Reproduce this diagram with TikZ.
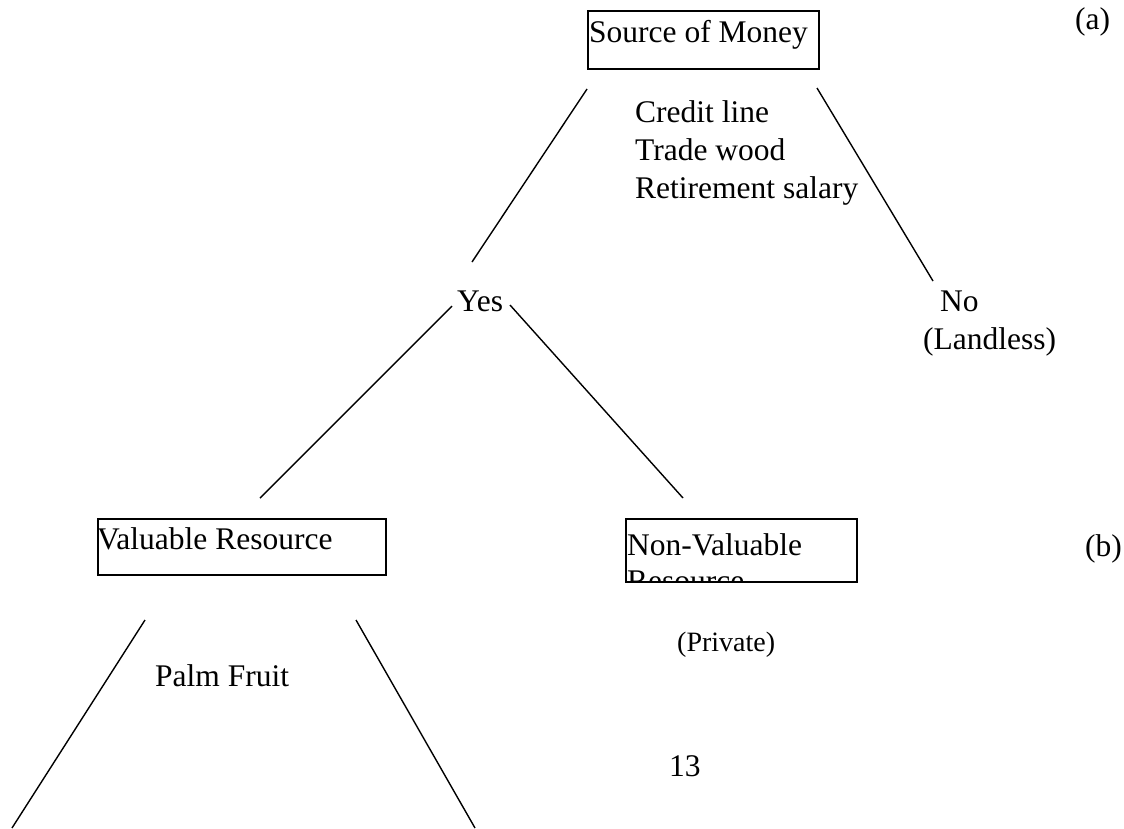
\documentclass[tikz,border=0pt]{standalone}
\usepackage{fontspec}
\setmainfont{Liberation Serif}
\newfontfamily\tmsfont{Liberation Serif}
\begin{document}
\begin{tikzpicture}[x=1pt,y=-1pt,
  txt/.style={inner sep=0pt, anchor=base west, font=\tmsfont\fontsize{31.5}{36}\selectfont},
  smalltxt/.style={inner sep=0pt, anchor=base west, font=\tmsfont\fontsize{28}{33}\selectfont},
  boxx/.style={draw, line width=1.5pt, inner sep=0pt, anchor=north west},
  conn/.style={line width=1.4pt}]
\useasboundingbox (0,0) rectangle (1124,828);

% boxes
\node[boxx, minimum width=231pt, minimum height=58pt] (srcbox) at (587,10) {};
\node[boxx, minimum width=288pt, minimum height=56pt] (valbox) at (97,518) {};
\node[boxx, minimum width=231pt, minimum height=63pt] (nvbox) at (625,518) {};

% texts
\node[txt] (src) at (589,42) {Source of Money};
\node[txt] (cl) at (635,122) {Credit line};
\node[txt] (tw) at (635,160) {Trade wood};
\node[txt] (rs) at (635,198) {Retirement salary};
\node[txt] (yes) at (457,311) {Yes};
\node[txt] (no) at (940,311) {No};
\node[txt] (land) at (923,349) {(Landless)};
\node[txt] (val) at (97,549) {Valuable Resource};
\node[txt] (nv) at (627,555) {Non-Valuable};
\begin{scope}
  \clip (625,518) rectangle (856,581);
  \node[txt] (nvres) at (627,591) {Resource};
\end{scope}
\node[smalltxt] (priv) at (677,651) {(Private)};
\node[txt] (palm) at (155,686) {Palm Fruit};
\node[txt] (pg) at (669,776) {13};
\node[txt] (la) at (1075,29) {(a)};
\node[txt] (lb) at (1085,556) {(b)};

% connector end points
\coordinate (a1) at (587,89);  \coordinate (a2) at (472,262);
\coordinate (b1) at (817,88);  \coordinate (b2) at (933,281);
\coordinate (c1) at (452,306); \coordinate (c2) at (260,498);
\coordinate (d1) at (510,305); \coordinate (d2) at (683,498);
\coordinate (e1) at (145,620); \coordinate (e2) at (12,828);
\coordinate (f1) at (356,620); \coordinate (f2) at (475,828);

\draw[conn] (a1) -- (a2);
\draw[conn] (b1) -- (b2);
\draw[conn] (c1) -- (c2);
\draw[conn] (d1) -- (d2);
\draw[conn] (e1) -- (e2);
\draw[conn] (f1) -- (f2);
\end{tikzpicture}
\end{document}
